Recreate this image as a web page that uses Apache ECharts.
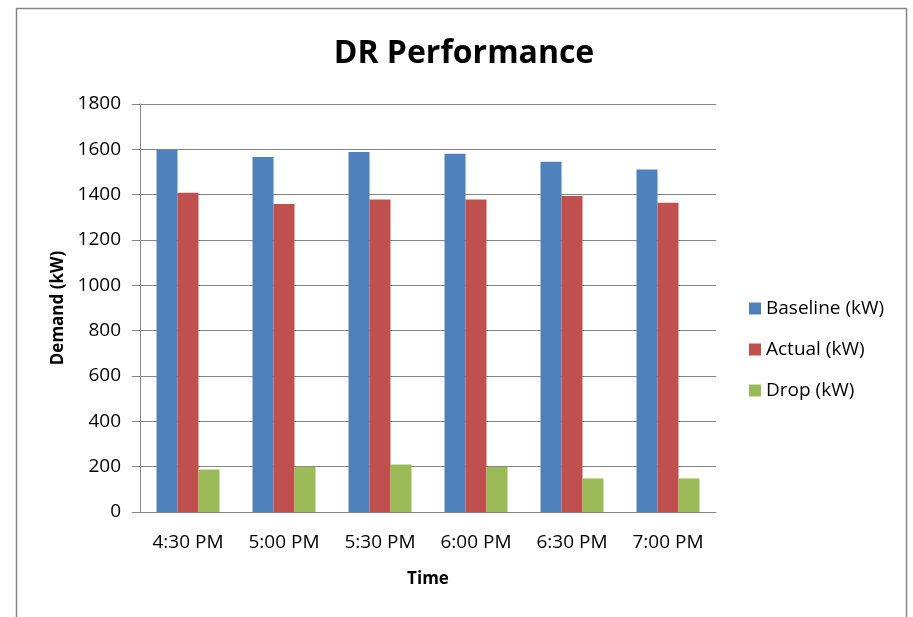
<!DOCTYPE html>
<html><head><meta charset="utf-8">
<script src="https://cdn.jsdelivr.net/npm/echarts@6/dist/echarts.min.js"></script>
<style>html,body{margin:0;padding:0;background:#fff}#c{width:913px;height:617px}</style>
</head><body><div id="c"></div>
<script>
const categories = ['4:30 PM','5:00 PM','5:30 PM','6:00 PM','6:30 PM','7:00 PM'];
const baseline = [1598, 1566, 1588, 1580, 1545, 1511];
const actual = [1408, 1359, 1379, 1379, 1394, 1364];
const drop = [188, 200, 210, 198, 148, 148];
const seriesNames = ['Baseline (kW)','Actual (kW)','Drop (kW)'];
const colors = ['#4F81BD','#C0504D','#9BBB59'];
const FONT = '"Open Sans", "Liberation Sans", sans-serif';

const chart = echarts.init(document.getElementById('c'), null, {renderer:'canvas'});
chart.setOption({
  animation:false,
  color: colors,
  title:{text:'DR Performance', left:459, top:33, textAlign:'center',
    textStyle:{fontFamily:FONT, fontSize:32, fontWeight:'bold', color:'#000'}},
  graphic:[{type:'rect', shape:{x:16.5,y:8.5,width:890,height:640}, style:{fill:'none', stroke:'#868686', lineWidth:1.5}, silent:true}],
  legend:{orient:'vertical', left:744, top:294, itemGap:22, itemWidth:12, itemHeight:12, icon:'rect',
    textStyle:{fontFamily:FONT, fontSize:19, color:'#000'}, data:seriesNames},
  grid:{left:140, top:104, right:197, bottom:105, containLabel:false},
  xAxis:{type:'category', data:categories,
    name:'Time', nameLocation:'middle', nameGap:59,
    nameTextStyle:{fontFamily:FONT, fontSize:17, fontWeight:'bold', color:'#000'},
    axisLine:{lineStyle:{color:'#868686', width:1}},
    axisTick:{show:false},
    axisLabel:{fontFamily:FONT, fontSize:19, color:'#000', margin:21}},
  yAxis:{type:'value', min:0, max:1800, interval:200,
    name:'Demand (kW)', nameLocation:'middle', nameGap:73, nameRotate:90,
    nameTextStyle:{fontFamily:FONT, fontSize:17, fontWeight:'bold', color:'#000'},
    axisLine:{show:true, lineStyle:{color:'#868686', width:1}},
    axisTick:{show:true, length:8, lineStyle:{color:'#868686'}},
    splitLine:{lineStyle:{color:'#868686', width:1}},
    axisLabel:{fontFamily:FONT, fontSize:19, color:'#000', margin:19,
      formatter: v => String(v)}},
  series:[
    {name:seriesNames[0], type:'bar', data:baseline, barWidth:21, barGap:'0%'},
    {name:seriesNames[1], type:'bar', data:actual, barWidth:21, barGap:'0%'},
    {name:seriesNames[2], type:'bar', data:drop, barWidth:21, barGap:'0%'}
  ]
});
</script></body></html>
